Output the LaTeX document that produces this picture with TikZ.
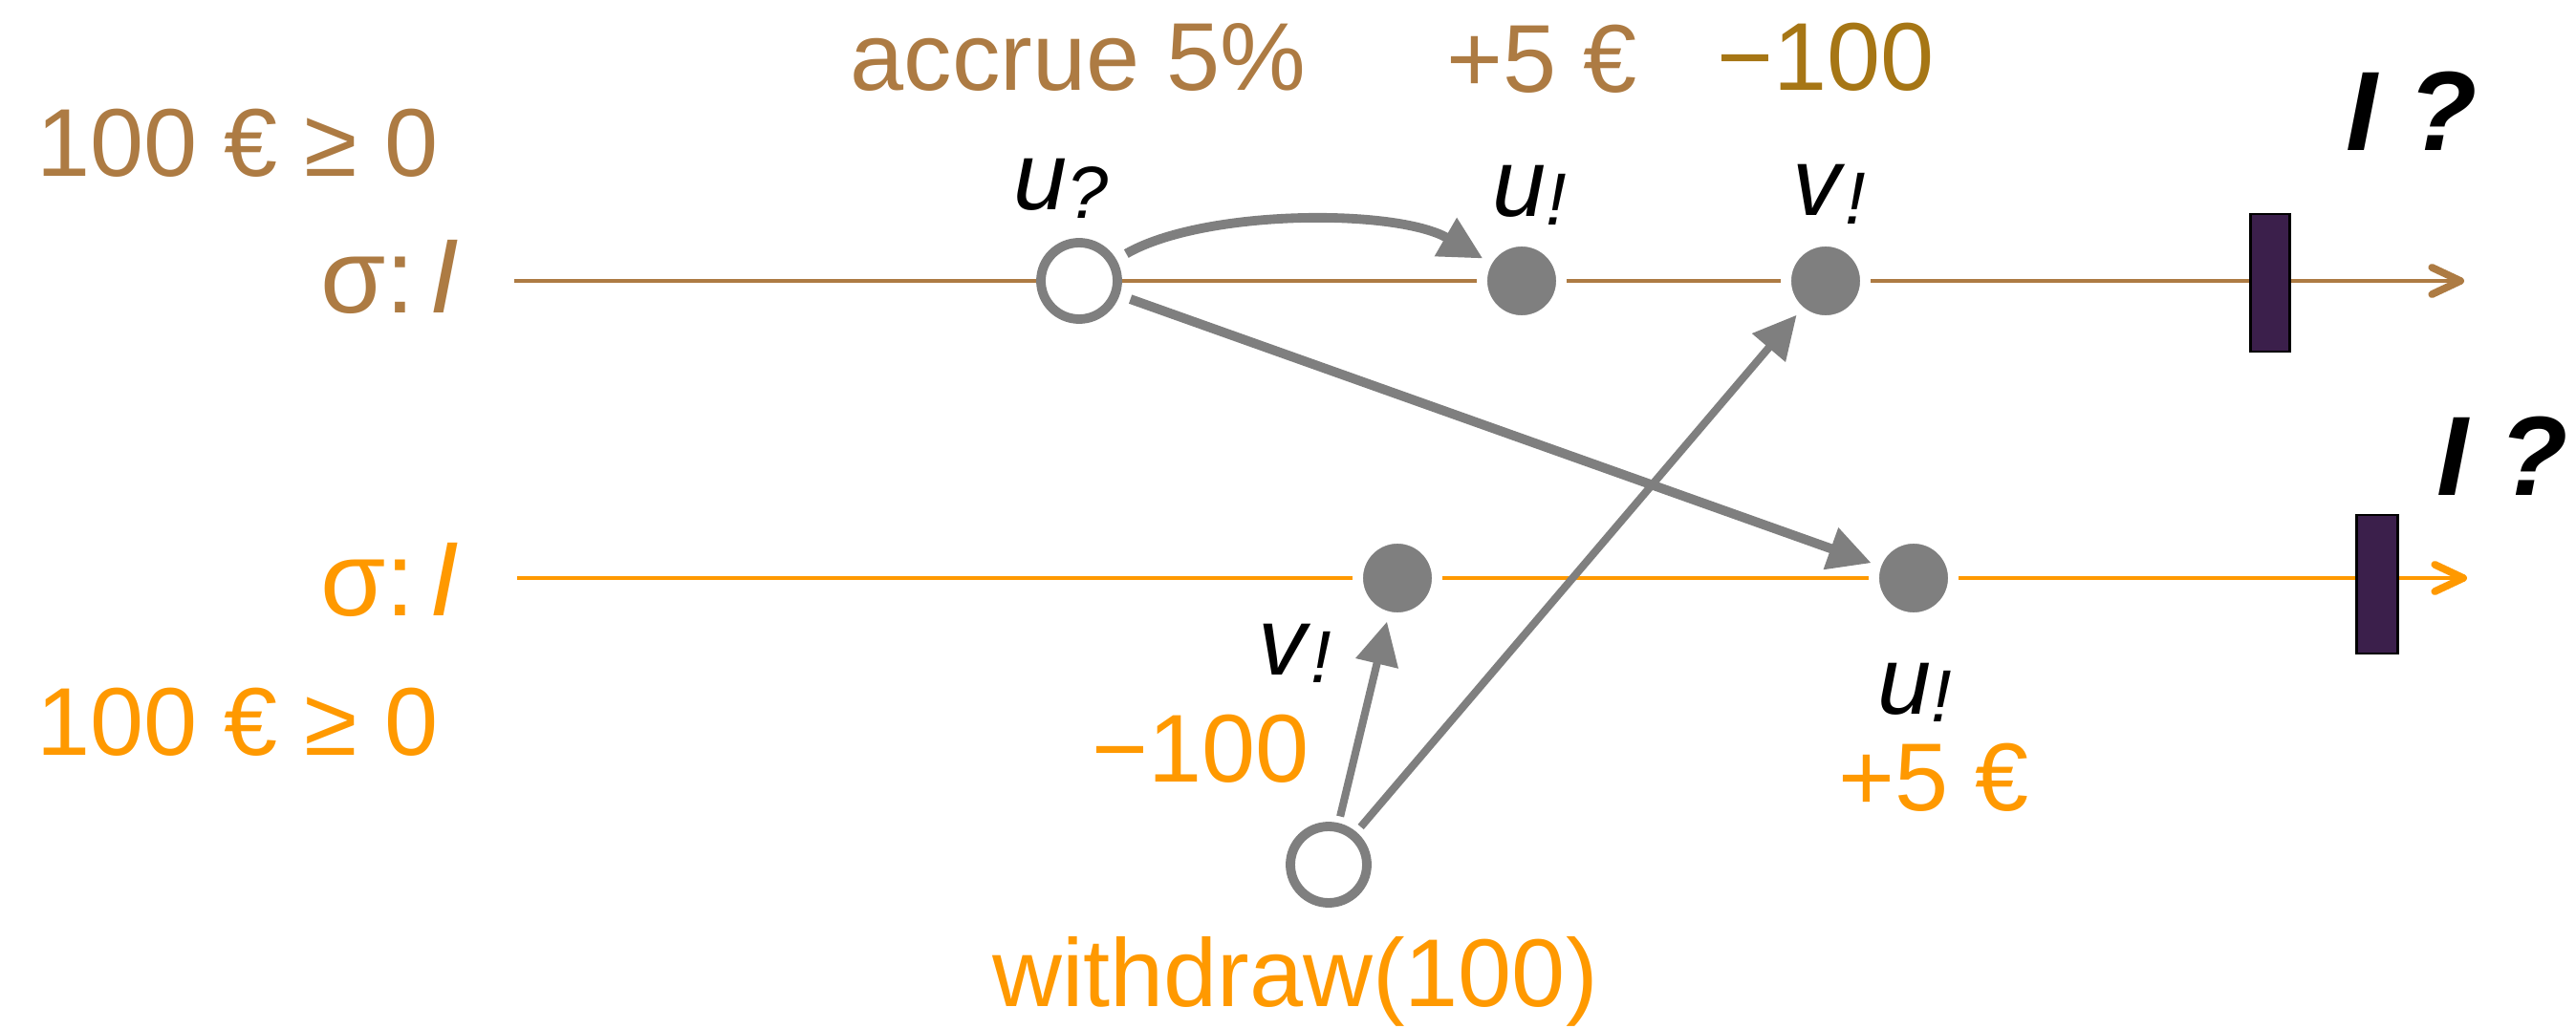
\documentclass[tikz,border=0pt]{standalone}
\usepackage{fontspec}
\setmainfont{Liberation Sans}
\usetikzlibrary{arrows.meta}
\definecolor{SigBrown}{RGB}{173, 123, 67}
\definecolor{SigGold}{RGB}{166, 118, 21}
\definecolor{SigOrange}{RGB}{255, 153, 0}
\definecolor{EvGray}{RGB}{127, 127, 127}
\definecolor{CutPurple}{RGB}{59, 31, 75}
\newcommand{\evname}[2]{\textit{#1}\raisebox{-2.4pt}{\fontsize{22}{22}\selectfont\textit{#2}}}

\begin{document}
\begin{tikzpicture}[
    txt/.style={font=\fontsize{28.7}{34}\selectfont, inner sep=0pt, anchor=base},
    sig/.style={font=\fontsize{31.5}{36}\selectfont, inner sep=0pt, anchor=base},
    qmark/.style={font=\fontsize{33.6}{38}\selectfont\bfseries\itshape, inner sep=0pt, anchor=base},
    recv/.style={circle, draw=EvGray, fill=white, line width=2.8pt, minimum size=0.80cm, inner sep=0pt},
    sent/.style={circle, draw=white, fill=EvGray, line width=3.1pt, minimum size=0.83cm, inner sep=0pt},
    cut/.style={draw=black, fill=CutPurple, line width=0.85pt, inner sep=0pt, minimum width=0.41cm, minimum height=1.44cm},
    axis/.style={line width=1.4pt, -{Straight Barb[length=8.5pt, width=8pt, line width=2.2pt, round]}},
    msg/.style={draw=EvGray, line width=2.8pt, -{Triangle[length=12.8pt, width=12.5pt]}},
  ]
    \useasboundingbox (0,0) rectangle (26.95,10.76);

    % Timelines
    \coordinate (sa) at (5.38,7.82);
    \coordinate (ea) at (25.78,7.82);
    \coordinate (sb) at (5.41,4.71);
    \coordinate (eb) at (25.81,4.71);
    \draw[axis, SigBrown] (sa) -- (ea);
    \draw[axis, SigOrange] (sb) -- (eb);
    \node[cut] (cuta) at (23.745,7.80) {};
    \node[cut, minimum width=0.43cm, minimum height=1.45cm] (cutb) at (24.865,4.645) {};

    % Events
    \node[recv] (uq) at (11.29,7.82) {};
    \node[sent] (ua) at (15.92,7.82) {};
    \node[sent] (va) at (19.10,7.82) {};
    \node[sent] (vb) at (14.62,4.71) {};
    \node[sent] (ub) at (20.02,4.71) {};
    \node[recv] (wd) at (13.90,1.71) {};

    \draw[msg, shorten <=0.12cm] (uq) to[out=30, in=150, looseness=0.7] (ua);
    \draw[msg, shorten <=0.12cm] (uq) -- (ub);
    \draw[msg, line width=2.3pt, shorten <=0.07cm] (wd) -- (va);
    \draw[msg, line width=2.3pt, shorten <=0.07cm] (wd) -- (vb);

    % Event names
    \node[txt] (uqname) at (11.10,8.56) {\evname{u}{?}};
    \node[txt] (uaname) at (16.00,8.49) {\evname{u}{!}};
    \node[txt] (vaname) at (19.14,8.50) {\evname{v}{!}};
    \node[txt] (vbname) at (13.55,3.70) {\evname{v}{!}};
    \node[txt] (ubname) at (20.03,3.29) {\evname{u}{!}};

    % Labels for the top replica
    \node[txt, text=SigBrown] (inita) at (2.485,8.91) {100 € ≥ 0};
    \node[sig, text=SigBrown] (siga) at (4.08,7.48) {σ:\hspace{0.14em}\textit{I}};
    \node[txt, text=SigBrown] (accrue) at (11.28,9.81) {accrue 5\%};
    \node[txt, text=SigBrown] (plusa) at (16.13,9.79) {+5 €};
    \node[txt, text=SigGold] (minusa) at (19.10,9.81) {−100};
    \node[qmark] (qa) at (25.23,9.18) {I ?};

    % Labels for the bottom replica
    \node[txt, text=SigOrange] (initb) at (2.485,2.86) {100 € ≥ 0};
    \node[sig, text=SigOrange] (sigb) at (4.08,4.31) {σ:\hspace{0.14em}\textit{I}};
    \node[txt, text=SigOrange] (minusb) at (12.56,2.58) {−100};
    \node[txt, text=SigOrange] (withdraw) at (13.55,0.23) {withdraw(100)};
    \node[txt, text=SigOrange] (plusb) at (20.23,2.28) {+5 €};
    \node[qmark] (qb) at (26.18,5.57) {I ?};
  \end{tikzpicture}
\end{document}
